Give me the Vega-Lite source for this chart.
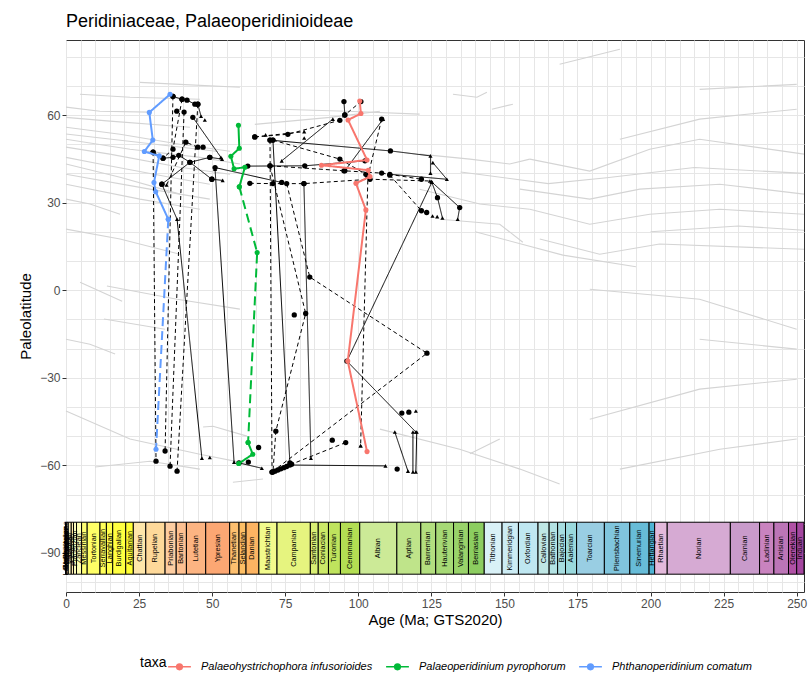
{
"$schema": "https://vega.github.io/schema/vega-lite/v6.json",
"width": 738, "height": 552,
"autosize": {"type": "none"},
"padding": {"left": 66, "top": 40, "right": 7, "bottom": 82},
"background": "white",
"title": {"text": "Peridiniaceae, Palaeoperidinioideae", "anchor": "start", "frame": "group", "fontSize": 18, "font": "Liberation Sans", "fontWeight": "normal", "color": "black", "offset": 9},
"config": {"view": {"stroke": "#333333", "strokeWidth": 1}, "font": "Liberation Sans"},
"datasets": {
"gray": [
{"g":"g1","o":0,"age":0,"lat":55.8},{"g":"g1","o":1,"age":18.5,"lat":53.4},{"g":"g1","o":2,"age":39,"lat":50},{"g":"g1","o":3,"age":56.1,"lat":47.6},
{"g":"g2","o":0,"age":0,"lat":51.7},{"g":"g2","o":1,"age":21.9,"lat":48.3},{"g":"g2","o":2,"age":45.8,"lat":45.5},{"g":"g2","o":3,"age":59.5,"lat":43.2},
{"g":"g3","o":0,"age":0,"lat":49},{"g":"g3","o":1,"age":15,"lat":46.6},{"g":"g3","o":2,"age":39,"lat":42.1},{"g":"g3","o":3,"age":56.1,"lat":39.7},
{"g":"g4","o":0,"age":0,"lat":45.5},{"g":"g4","o":1,"age":11.6,"lat":43.2},{"g":"g4","o":2,"age":35.6,"lat":38.7},{"g":"g4","o":3,"age":49.2,"lat":36.3},
{"g":"g5","o":0,"age":0,"lat":43.2},{"g":"g5","o":1,"age":18.5,"lat":38.7},{"g":"g5","o":2,"age":39,"lat":32.9},
{"g":"g6","o":0,"age":0,"lat":59.2},{"g":"g6","o":1,"age":15,"lat":57.9},{"g":"g6","o":2,"age":42.4,"lat":55.8},
{"g":"g7","o":0,"age":0,"lat":62.7},{"g":"g7","o":1,"age":11.6,"lat":61.3},{"g":"g7","o":2,"age":28.7,"lat":61},
{"g":"g8","o":0,"age":4.8,"lat":67.1},{"g":"g8","o":1,"age":21.9,"lat":66.1},{"g":"g8","o":2,"age":45.8,"lat":65.4},
{"g":"g9","o":0,"age":25.3,"lat":71.2},{"g":"g9","o":1,"age":39,"lat":70.5},{"g":"g9","o":2,"age":59.5,"lat":69.5},
{"g":"g10","o":0,"age":0,"lat":31.2},{"g":"g10","o":1,"age":8.2,"lat":29.5},{"g":"g10","o":2,"age":18.5,"lat":26},
{"g":"g11","o":0,"age":0,"lat":36.3},{"g":"g11","o":1,"age":25.3,"lat":31.2},{"g":"g11","o":2,"age":45.8,"lat":27.7},
{"g":"g12","o":0,"age":0,"lat":39.7},{"g":"g12","o":1,"age":28.7,"lat":34.6},{"g":"g12","o":2,"age":49.2,"lat":31.2},
{"g":"g13","o":0,"age":0,"lat":20.9},{"g":"g13","o":1,"age":18.5,"lat":17.5},{"g":"g13","o":2,"age":39,"lat":12.3},
{"g":"g14","o":0,"age":0,"lat":53.5},{"g":"g14","o":1,"age":26,"lat":50.5},{"g":"g14","o":2,"age":52,"lat":47.5},
{"g":"g15","o":0,"age":4.8,"lat":2.7},{"g":"g15","o":1,"age":19.2,"lat":-3.8},
{"g":"g16","o":0,"age":14,"lat":1.4},{"g":"g16","o":1,"age":38,"lat":-3.1},{"g":"g16","o":2,"age":59.5,"lat":-6.5},
{"g":"g17","o":0,"age":0,"lat":-16.8},{"g":"g17","o":1,"age":8.2,"lat":-18.5},{"g":"g17","o":2,"age":16.8,"lat":-21.9},
{"g":"g18","o":0,"age":13,"lat":-9.9},{"g":"g18","o":1,"age":33.9,"lat":-13.4},
{"g":"g19","o":0,"age":0,"lat":-41.4},{"g":"g19","o":1,"age":21.9,"lat":-51},{"g":"g19","o":2,"age":45.8,"lat":-56.2},{"g":"g19","o":3,"age":62.9,"lat":-59.6},
{"g":"g20","o":0,"age":9.9,"lat":-60.6},{"g":"g20","o":1,"age":28.7,"lat":-58.6},{"g":"g20","o":2,"age":45.8,"lat":-61.3},
{"g":"g21","o":0,"age":57.1,"lat":-65.8},{"g":"g21","o":1,"age":67.4,"lat":-64.7},
{"g":"g22","o":0,"age":46.9,"lat":-46.9},{"g":"g22","o":1,"age":50.3,"lat":-46.6},{"g":"g22","o":2,"age":61.9,"lat":-50},
{"g":"g23","o":0,"age":73.2,"lat":62},{"g":"g23","o":1,"age":96.1,"lat":61.3},{"g":"g23","o":2,"age":121,"lat":60.3},
{"g":"g24","o":0,"age":64.6,"lat":56.8},{"g":"g24","o":1,"age":90.3,"lat":59.2},{"g":"g24","o":2,"age":107.4,"lat":61.3},
{"g":"g25","o":0,"age":121,"lat":46.6},{"g":"g25","o":1,"age":138.2,"lat":44.9},{"g":"g25","o":2,"age":151.8,"lat":43.2},{"g":"g25","o":3,"age":158.7,"lat":44.9},
{"g":"g26","o":0,"age":121,"lat":34.6},{"g":"g26","o":1,"age":141.6,"lat":29.5},{"g":"g26","o":2,"age":158.7,"lat":27.7},
{"g":"g27","o":0,"age":127.9,"lat":24.3},{"g":"g27","o":1,"age":148.4,"lat":22.6},{"g":"g27","o":2,"age":156.3,"lat":16.4},
{"g":"g28","o":0,"age":132.4,"lat":67.1},{"g":"g28","o":1,"age":140.6,"lat":66.1},{"g":"g28","o":2,"age":144,"lat":67.8},
{"g":"g29","o":0,"age":145.7,"lat":62},{"g":"g29","o":1,"age":152.9,"lat":63.7},
{"g":"g30","o":0,"age":158.7,"lat":44.9},{"g":"g30","o":1,"age":179.2,"lat":40.8},{"g":"g30","o":2,"age":199.7,"lat":48.3},{"g":"g30","o":3,"age":216.8,"lat":51.7},{"g":"g30","o":4,"age":252.5,"lat":46.6},
{"g":"g31","o":0,"age":155.3,"lat":34.6},{"g":"g31","o":1,"age":179.2,"lat":31.2},{"g":"g31","o":2,"age":196.3,"lat":34.6},{"g":"g31","o":3,"age":223.7,"lat":36.3},{"g":"g31","o":4,"age":252.5,"lat":32.9},
{"g":"g32","o":0,"age":158.7,"lat":27.7},{"g":"g32","o":1,"age":179.2,"lat":22.6},{"g":"g32","o":2,"age":199.7,"lat":26},{"g":"g32","o":3,"age":223.7,"lat":27.7},{"g":"g32","o":4,"age":252.5,"lat":26},
{"g":"g33","o":0,"age":162.1,"lat":17.5},{"g":"g33","o":1,"age":182.6,"lat":12.3},{"g":"g33","o":2,"age":203.1,"lat":15.8},{"g":"g33","o":3,"age":252.5,"lat":14},
{"g":"g34","o":0,"age":179.2,"lat":0.3},{"g":"g34","o":1,"age":216.8,"lat":-3.1},{"g":"g34","o":2,"age":250,"lat":-13.4},
{"g":"g35","o":0,"age":189.5,"lat":51.7},{"g":"g35","o":1,"age":216.8,"lat":58.6},{"g":"g35","o":2,"age":250,"lat":62},
{"g":"g36","o":0,"age":168.9,"lat":77.4},{"g":"g36","o":1,"age":189.5,"lat":82.5},
{"g":"g37","o":0,"age":216.8,"lat":68.8},{"g":"g37","o":1,"age":250,"lat":70.5},
{"g":"g38","o":0,"age":107.4,"lat":-47.6},{"g":"g38","o":1,"age":134.7,"lat":-54.5},{"g":"g38","o":2,"age":155.3,"lat":-61.3},{"g":"g38","o":3,"age":168.9,"lat":-66.4},
{"g":"g39","o":0,"age":138.2,"lat":-56},{"g":"g39","o":1,"age":148.4,"lat":-51},
{"g":"g40","o":0,"age":179.2,"lat":-44.2},{"g":"g40","o":1,"age":216.8,"lat":-33.9},{"g":"g40","o":2,"age":250,"lat":-30.5},
{"g":"g41","o":0,"age":189.5,"lat":-61.3},{"g":"g41","o":1,"age":223.7,"lat":-54.5},{"g":"g41","o":2,"age":250,"lat":-51},
{"g":"g42","o":0,"age":216.8,"lat":-16.8},{"g":"g42","o":1,"age":250,"lat":-20.2},
{"g":"g43","o":0,"age":135,"lat":40.5},{"g":"g43","o":1,"age":165,"lat":36.5},{"g":"g43","o":2,"age":185,"lat":38.5},{"g":"g43","o":3,"age":215,"lat":42},{"g":"g43","o":4,"age":252.5,"lat":40},
{"g":"g44","o":0,"age":140,"lat":20},{"g":"g44","o":1,"age":170,"lat":12},{"g":"g44","o":2,"age":195,"lat":8},
{"g":"g45","o":0,"age":200,"lat":20},{"g":"g45","o":1,"age":230,"lat":22},{"g":"g45","o":2,"age":252.5,"lat":20.5}
],
"stages": [
{"stage":"Meghalayan","start":0,"end":0.0042},{"stage":"Northgrippian","start":0.0042,"end":0.0082},{"stage":"Greenlandian","start":0.0082,"end":0.0117},{"stage":"Late Pleistocene","start":0.0117,"end":0.129},{"stage":"Chibanian","start":0.129,"end":0.774},{"stage":"Calabrian","start":0.774,"end":1.8},{"stage":"Gelasian","start":1.8,"end":2.58},{"stage":"Piacenzian","start":2.58,"end":3.6},{"stage":"Zanclean","start":3.6,"end":5.333},{"stage":"Messinian","start":5.333,"end":7.246},{"stage":"Tortonian","start":7.246,"end":11.63},{"stage":"Serravallian","start":11.63,"end":13.82},{"stage":"Langhian","start":13.82,"end":15.98},{"stage":"Burdigalian","start":15.98,"end":20.44},{"stage":"Aquitanian","start":20.44,"end":23.03},{"stage":"Chattian","start":23.03,"end":27.3},{"stage":"Rupelian","start":27.3,"end":33.9},{"stage":"Priabonian","start":33.9,"end":37.71},{"stage":"Bartonian","start":37.71,"end":41.2},{"stage":"Lutetian","start":41.2,"end":47.8},{"stage":"Ypresian","start":47.8,"end":56},{"stage":"Thanetian","start":56,"end":59.2},{"stage":"Selandian","start":59.2,"end":61.6},{"stage":"Danian","start":61.6,"end":66},{"stage":"Maastrichtian","start":66,"end":72.2},{"stage":"Campanian","start":72.2,"end":83.6},{"stage":"Santonian","start":83.6,"end":86.3},{"stage":"Coniacian","start":86.3,"end":89.8},{"stage":"Turonian","start":89.8,"end":93.9},{"stage":"Cenomanian","start":93.9,"end":100.5},{"stage":"Albian","start":100.5,"end":113.2},{"stage":"Aptian","start":113.2,"end":121.4},{"stage":"Barremian","start":121.4,"end":126.5},{"stage":"Hauterivian","start":126.5,"end":132.6},{"stage":"Valanginian","start":132.6,"end":137.7},{"stage":"Berriasian","start":137.7,"end":143.1},{"stage":"Tithonian","start":143.1,"end":149.2},{"stage":"Kimmeridgian","start":149.2,"end":154.8},{"stage":"Oxfordian","start":154.8,"end":161.5},{"stage":"Callovian","start":161.5,"end":165.3},{"stage":"Bathonian","start":165.3,"end":168.2},{"stage":"Bajocian","start":168.2,"end":170.9},{"stage":"Aalenian","start":170.9,"end":174.7},{"stage":"Toarcian","start":174.7,"end":184.2},{"stage":"Pliensbachian","start":184.2,"end":192.9},{"stage":"Sinemurian","start":192.9,"end":199.5},{"stage":"Hettangian","start":199.5,"end":201.4},{"stage":"Rhaetian","start":201.4,"end":205.7},{"stage":"Norian","start":205.7,"end":227.3},{"stage":"Carnian","start":227.3,"end":237.3},{"stage":"Ladinian","start":237.3,"end":242.2},{"stage":"Anisian","start":242.2,"end":247.2},{"stage":"Olenekian","start":247.2,"end":250},{"stage":"Induan","start":250,"end":252.5}
],
"black": [
{"s":"b1","d":"solid","o":0,"age":36.6,"lat":66.4,"sh":"c"},{"s":"b1","d":"solid","o":1,"age":39.7,"lat":65.4,"sh":"c"},{"s":"b1","d":"solid","o":2,"age":41.4,"lat":65.1,"sh":"c"},{"s":"b1","d":"solid","o":3,"age":44.1,"lat":63.7,"sh":"c"},{"s":"b1","d":"solid","o":4,"age":45.1,"lat":63.7,"sh":"c"},{"s":"b1","d":"solid","o":5,"age":46.2,"lat":59.6,"sh":"t"},
{"s":"b2","d":"dashed","o":0,"age":36.6,"lat":66.4,"sh":"c"},{"s":"b2","d":"dashed","o":1,"age":33.9,"lat":-55.1,"sh":"c"},
{"s":"b3","d":"dashed","o":0,"age":40.4,"lat":61.0,"sh":"c"},{"s":"b3","d":"dashed","o":1,"age":35.6,"lat":-60.3,"sh":"c"},
{"s":"b4","d":"dashed","o":0,"age":45.1,"lat":63.7,"sh":"c"},{"s":"b4","d":"dashed","o":1,"age":38.0,"lat":-62.0,"sh":"c"},
{"s":"b5","d":"dashed","o":0,"age":39.7,"lat":65.4,"sh":"c"},{"s":"b5","d":"dashed","o":1,"age":36.6,"lat":48.3,"sh":"c"},{"s":"b5","d":"dashed","o":2,"age":33.2,"lat":45.2,"sh":"c"},
{"s":"b6","d":"solid","o":0,"age":43.4,"lat":59.2,"sh":"c"},{"s":"b6","d":"solid","o":1,"age":53.0,"lat":45.5,"sh":"t"},
{"s":"b7","d":"solid","o":0,"age":32.8,"lat":36.3,"sh":"c"},{"s":"b7","d":"solid","o":1,"age":38.0,"lat":24.3,"sh":"t"},{"s":"b7","d":"solid","o":2,"age":46.5,"lat":-57.6,"sh":"t"},
{"s":"b8","d":"solid","o":0,"age":29.8,"lat":47.3,"sh":"c"},{"s":"b8","d":"solid","o":1,"age":33.2,"lat":45.2,"sh":"c"},{"s":"b8","d":"solid","o":2,"age":36.6,"lat":45.5,"sh":"c"},{"s":"b8","d":"solid","o":3,"age":38.6,"lat":46.2,"sh":"c"},{"s":"b8","d":"solid","o":4,"age":42.4,"lat":43.8,"sh":"c"},{"s":"b8","d":"solid","o":5,"age":49.2,"lat":45.5,"sh":"c"},
{"s":"b9","d":"dashed","o":0,"age":34.4,"lat":36.0,"sh":"t"},{"s":"b9","d":"dashed","o":1,"age":41.0,"lat":50.7,"sh":"c"},{"s":"b9","d":"dashed","o":2,"age":45.1,"lat":49.0,"sh":"c"},{"s":"b9","d":"dashed","o":3,"age":46.9,"lat":49.0,"sh":"c"},
{"s":"b10","d":"solid","o":0,"age":32.8,"lat":36.3,"sh":"c"},{"s":"b10","d":"solid","o":1,"age":42.4,"lat":43.8,"sh":"c"},{"s":"b10","d":"solid","o":2,"age":49.9,"lat":38.0,"sh":"c"},
{"s":"b11","d":"solid","o":0,"age":51.0,"lat":41.4,"sh":"t"},{"s":"b11","d":"solid","o":1,"age":57.5,"lat":-58.9,"sh":"t"},
{"s":"b12","d":"dashed","o":0,"age":29.8,"lat":47.3,"sh":"c"},{"s":"b12","d":"dashed","o":1,"age":30.8,"lat":-58.6,"sh":"c"},
{"s":"b13","d":"solid","o":0,"age":59.2,"lat":-59.2,"sh":"c"},{"s":"b13","d":"solid","o":1,"age":67.0,"lat":-61.0,"sh":"t"},
{"s":"b14","d":"solid","o":0,"age":49.2,"lat":45.5,"sh":"c"},{"s":"b14","d":"solid","o":1,"age":53.4,"lat":44.9,"sh":"t"},
{"s":"b15","d":"solid","o":0,"age":62.2,"lat":42.5,"sh":"c"},{"s":"b15","d":"solid","o":1,"age":81.7,"lat":42.6,"sh":"c"},{"s":"b15","d":"solid","o":2,"age":102.3,"lat":44.3,"sh":"c"},
{"s":"b16","d":"solid","o":0,"age":69.8,"lat":51.4,"sh":"c"},{"s":"b16","d":"solid","o":1,"age":111.0,"lat":47.7,"sh":"c"},{"s":"b16","d":"solid","o":2,"age":124.7,"lat":46.0,"sh":"t"},{"s":"b16","d":"solid","o":3,"age":124.7,"lat":40.1,"sh":"t"},
{"s":"b17","d":"solid","o":0,"age":125.5,"lat":43.7,"sh":"t"},{"s":"b17","d":"solid","o":1,"age":130.3,"lat":38.0,"sh":"t"},{"s":"b17","d":"solid","o":2,"age":110.8,"lat":39.7,"sh":"c"},
{"s":"b18","d":"dashed","o":0,"age":69.8,"lat":42.6,"sh":"c"},{"s":"b18","d":"dashed","o":1,"age":95.1,"lat":40.9,"sh":"c"},{"s":"b18","d":"dashed","o":2,"age":108.0,"lat":40.1,"sh":"c"},{"s":"b18","d":"dashed","o":3,"age":121.6,"lat":38.0,"sh":"c"},
{"s":"b19","d":"dashed","o":0,"age":62.9,"lat":36.6,"sh":"c"},{"s":"b19","d":"dashed","o":1,"age":70.8,"lat":36.5,"sh":"c"},{"s":"b19","d":"dashed","o":2,"age":81.4,"lat":36.5,"sh":"c"},{"s":"b19","d":"dashed","o":3,"age":104.0,"lat":38.0,"sh":"c"},{"s":"b19","d":"dashed","o":4,"age":124.5,"lat":37.4,"sh":"t"},
{"s":"b20","d":"solid","o":0,"age":73.8,"lat":44.3,"sh":"t"},{"s":"b20","d":"solid","o":1,"age":91.3,"lat":58.6,"sh":"t"},
{"s":"b21","d":"dashed","o":0,"age":64.6,"lat":52.5,"sh":"c"},{"s":"b21","d":"dashed","o":1,"age":75.9,"lat":53.4,"sh":"c"},{"s":"b21","d":"dashed","o":2,"age":93.7,"lat":58.2,"sh":"c"},{"s":"b21","d":"dashed","o":3,"age":95.4,"lat":60.0,"sh":"c"},{"s":"b21","d":"dashed","o":4,"age":100.9,"lat":64.6,"sh":"c"},
{"s":"b22","d":"solid","o":0,"age":95.1,"lat":64.6,"sh":"c"},{"s":"b22","d":"solid","o":1,"age":95.4,"lat":60.0,"sh":"c"},
{"s":"b23","d":"solid","o":0,"age":70.8,"lat":51.4,"sh":"c"},{"s":"b23","d":"solid","o":1,"age":76.6,"lat":-59.2,"sh":"c"},
{"s":"b24","d":"dashed","o":0,"age":69.8,"lat":51.4,"sh":"c"},{"s":"b24","d":"dashed","o":1,"age":70.5,"lat":-62.3,"sh":"c"},
{"s":"b25","d":"dashed","o":0,"age":69.8,"lat":42.6,"sh":"c"},{"s":"b25","d":"dashed","o":1,"age":82.0,"lat":-8.0,"sh":"c"},{"s":"b25","d":"dashed","o":2,"age":71.8,"lat":-48.3,"sh":"c"},{"s":"b25","d":"dashed","o":3,"age":70.8,"lat":-62.3,"sh":"c"},
{"s":"b26","d":"solid","o":0,"age":81.4,"lat":36.5,"sh":"c"},{"s":"b26","d":"solid","o":1,"age":83.8,"lat":-57.6,"sh":"t"},
{"s":"b27","d":"dashed","o":0,"age":75.5,"lat":36.5,"sh":"c"},{"s":"b27","d":"dashed","o":1,"age":83.4,"lat":4.5,"sh":"c"},{"s":"b27","d":"dashed","o":2,"age":123.5,"lat":-21.6,"sh":"c"},{"s":"b27","d":"dashed","o":3,"age":70.5,"lat":-62.3,"sh":"c"},
{"s":"b28","d":"solid","o":0,"age":125.2,"lat":37.0,"sh":"t"},{"s":"b28","d":"solid","o":1,"age":96.1,"lat":-24.3,"sh":"c"},{"s":"b28","d":"solid","o":2,"age":119.7,"lat":-48.6,"sh":"t"},
{"s":"b29","d":"dashed","o":0,"age":95.7,"lat":-52.2,"sh":"c"},{"s":"b29","d":"dashed","o":1,"age":77.2,"lat":-59.6,"sh":"c"},
{"s":"b30","d":"solid","o":0,"age":76.6,"lat":-59.9,"sh":"c"},{"s":"b30","d":"solid","o":1,"age":109.3,"lat":-60.2,"sh":"t"},
{"s":"b31","d":"solid","o":0,"age":112.5,"lat":-48.6,"sh":"t"},{"s":"b31","d":"solid","o":1,"age":117.0,"lat":-62.0,"sh":"t"},
{"s":"b32","d":"solid","o":0,"age":118.7,"lat":-48.6,"sh":"t"},{"s":"b32","d":"solid","o":1,"age":118.7,"lat":-62.3,"sh":"t"},
{"s":"b33","d":"solid","o":0,"age":120.0,"lat":-48.6,"sh":"t"},{"s":"b33","d":"solid","o":1,"age":119.7,"lat":-62.3,"sh":"t"},
{"s":"b34","d":"solid","o":0,"age":125.1,"lat":37.1,"sh":"t"},{"s":"b34","d":"solid","o":1,"age":127.1,"lat":31.7,"sh":"c"},{"s":"b34","d":"solid","o":2,"age":128.8,"lat":24.7,"sh":"t"},
{"s":"b35","d":"solid","o":0,"age":125.1,"lat":37.1,"sh":"t"},{"s":"b35","d":"solid","o":1,"age":134.7,"lat":28.3,"sh":"c"},{"s":"b35","d":"solid","o":2,"age":134.0,"lat":24.3,"sh":"t"},
{"s":"b36","d":"dashed","o":0,"age":110.8,"lat":39.4,"sh":"c"},{"s":"b36","d":"dashed","o":1,"age":121.6,"lat":27.2,"sh":"c"},
{"s":"b37","d":"solid","o":0,"age":108.5,"lat":58.6,"sh":"t"},{"s":"b37","d":"solid","o":1,"age":95.4,"lat":40.9,"sh":"c"},
{"s":"b38","d":"dashed","o":0,"age":108.0,"lat":58.6,"sh":"c"},{"s":"b38","d":"dashed","o":1,"age":103.3,"lat":39.0,"sh":"c"},{"s":"b38","d":"dashed","o":2,"age":100.8,"lat":-53.3,"sh":"t"},
{"s":"b39","d":"dashed","o":0,"age":70.8,"lat":51.4,"sh":"c"},{"s":"b39","d":"dashed","o":1,"age":93.7,"lat":44.9,"sh":"c"},{"s":"b39","d":"dashed","o":2,"age":102.6,"lat":39.7,"sh":"c"},
{"s":"b41","d":"dashed","o":0,"age":64.6,"lat":52.5,"sh":"c"},{"s":"b41","d":"dashed","o":1,"age":81.5,"lat":54.3,"sh":"t"},
{"s":"b42","d":"solid","o":0,"age":51.0,"lat":42.0,"sh":"c"},{"s":"b42","d":"solid","o":1,"age":73.8,"lat":36.9,"sh":"c"},
{"s":"b43","d":"solid","o":0,"age":49.9,"lat":38.0,"sh":"c"},{"s":"b43","d":"solid","o":1,"age":53.6,"lat":37.6,"sh":"t"},
{"s":"p1","d":"solid","o":0,"age":37.9,"lat":61.3,"sh":"c"},{"s":"p2","d":"solid","o":0,"age":47.5,"lat":58.3,"sh":"t"},
{"s":"p3","d":"solid","o":0,"age":49.2,"lat":-57.3,"sh":"t"},{"s":"p4","d":"solid","o":0,"age":65.9,"lat":-53.9,"sh":"c"},
{"s":"p5","d":"solid","o":0,"age":91.1,"lat":-51.4,"sh":"c"},{"s":"p6","d":"solid","o":0,"age":114.9,"lat":-42.1,"sh":"c"},
{"s":"p7","d":"solid","o":0,"age":117.3,"lat":-41.8,"sh":"c"},{"s":"p8","d":"solid","o":0,"age":119.7,"lat":-41.4,"sh":"t"},
{"s":"p9","d":"solid","o":0,"age":123.4,"lat":26.6,"sh":"c"},{"s":"p10","d":"solid","o":0,"age":125.4,"lat":25.4,"sh":"t"},
{"s":"p11","d":"solid","o":0,"age":127.0,"lat":25.2,"sh":"t"},{"s":"p12","d":"solid","o":0,"age":68.3,"lat":53.2,"sh":"t"},
{"s":"p13","d":"solid","o":0,"age":81.5,"lat":52.1,"sh":"t"},{"s":"p14","d":"solid","o":0,"age":113.3,"lat":-61.3,"sh":"c"},
{"s":"p15","d":"solid","o":0,"age":78.1,"lat":-8.5,"sh":"c"},{"s":"p16","d":"solid","o":0,"age":71.5,"lat":-62.0,"sh":"c"},
{"s":"p17","d":"solid","o":0,"age":72.5,"lat":-61.6,"sh":"c"},{"s":"p18","d":"solid","o":0,"age":73.5,"lat":-61.2,"sh":"c"},
{"s":"p19","d":"solid","o":0,"age":74.5,"lat":-60.8,"sh":"c"},{"s":"p20","d":"solid","o":0,"age":75.5,"lat":-60.4,"sh":"c"},
{"s":"p21","d":"solid","o":0,"age":100.8,"lat":-53.3,"sh":"t"},{"s":"p22","d":"solid","o":0,"age":62.4,"lat":-58.9,"sh":"c"}
],
"taxa": [
{"taxa":"Palaeohystrichophora infusorioides","seg":"p","d":"solid","o":0,"age":100.5,"lat":64.8},
{"taxa":"Palaeohystrichophora infusorioides","seg":"p","d":"solid","o":1,"age":100.9,"lat":60.5},
{"taxa":"Palaeohystrichophora infusorioides","seg":"p","d":"solid","o":2,"age":96.5,"lat":58.3},
{"taxa":"Palaeohystrichophora infusorioides","seg":"p","d":"solid","o":3,"age":103.0,"lat":44.6},
{"taxa":"Palaeohystrichophora infusorioides","seg":"p","d":"solid","o":4,"age":87.4,"lat":42.8},
{"taxa":"Palaeohystrichophora infusorioides","seg":"p","d":"solid","o":5,"age":103.4,"lat":41.1},
{"taxa":"Palaeohystrichophora infusorioides","seg":"p","d":"solid","o":6,"age":104.0,"lat":38.9},
{"taxa":"Palaeohystrichophora infusorioides","seg":"p","d":"solid","o":7,"age":99.2,"lat":36.6},
{"taxa":"Palaeohystrichophora infusorioides","seg":"p","d":"solid","o":8,"age":102.6,"lat":27.5},
{"taxa":"Palaeohystrichophora infusorioides","seg":"p","d":"solid","o":9,"age":96.4,"lat":-24.3},
{"taxa":"Palaeohystrichophora infusorioides","seg":"p","d":"solid","o":10,"age":103.0,"lat":-55.3},
{"taxa":"Palaeoperidinium pyrophorum","seg":"g1","d":"solid","o":0,"age":59.0,"lat":56.5},
{"taxa":"Palaeoperidinium pyrophorum","seg":"g1","d":"solid","o":1,"age":59.3,"lat":48.6},
{"taxa":"Palaeoperidinium pyrophorum","seg":"g1","d":"solid","o":2,"age":56.4,"lat":45.9},
{"taxa":"Palaeoperidinium pyrophorum","seg":"g1","d":"solid","o":3,"age":57.5,"lat":41.6},
{"taxa":"Palaeoperidinium pyrophorum","seg":"g1","d":"solid","o":4,"age":61.2,"lat":42.1},
{"taxa":"Palaeoperidinium pyrophorum","seg":"g1","d":"solid","o":5,"age":59.3,"lat":35.4},
{"taxa":"Palaeoperidinium pyrophorum","seg":"g2","d":"dashed","o":0,"age":59.3,"lat":35.4},
{"taxa":"Palaeoperidinium pyrophorum","seg":"g2","d":"dashed","o":1,"age":65.4,"lat":12.9},
{"taxa":"Palaeoperidinium pyrophorum","seg":"g2","d":"dashed","o":2,"age":62.3,"lat":-52.2},
{"taxa":"Palaeoperidinium pyrophorum","seg":"g3","d":"solid","o":0,"age":62.3,"lat":-52.2},
{"taxa":"Palaeoperidinium pyrophorum","seg":"g3","d":"solid","o":1,"age":63.9,"lat":-56.2},
{"taxa":"Palaeoperidinium pyrophorum","seg":"g3","d":"solid","o":2,"age":59.1,"lat":-59.4},
{"taxa":"Phthanoperidinium comatum","seg":"c1","d":"solid","o":0,"age":35.6,"lat":67.1},
{"taxa":"Phthanoperidinium comatum","seg":"c1","d":"solid","o":1,"age":28.5,"lat":60.9},
{"taxa":"Phthanoperidinium comatum","seg":"c1","d":"solid","o":2,"age":29.7,"lat":51.4},
{"taxa":"Phthanoperidinium comatum","seg":"c1","d":"solid","o":3,"age":26.8,"lat":47.5},
{"taxa":"Phthanoperidinium comatum","seg":"c1","d":"solid","o":4,"age":31.9,"lat":46.0},
{"taxa":"Phthanoperidinium comatum","seg":"c1","d":"solid","o":5,"age":30.1,"lat":36.9},
{"taxa":"Phthanoperidinium comatum","seg":"c1","d":"solid","o":6,"age":30.7,"lat":33.7},
{"taxa":"Phthanoperidinium comatum","seg":"c1","d":"solid","o":7,"age":35.0,"lat":24.3},
{"taxa":"Phthanoperidinium comatum","seg":"c2","d":"dashed","o":0,"age":35.0,"lat":24.3},
{"taxa":"Phthanoperidinium comatum","seg":"c2","d":"dashed","o":1,"age":30.8,"lat":-54.5}
]
},
"resolve": {"scale": {"strokeDash": "independent", "size": "independent"}, "axis": {"x": "independent", "y": "independent"}},
"layer": [
{
"data": {"name": "gray"},
"mark": {"type": "line", "color": "#d4d4d4", "strokeWidth": 1.1},
"encoding": {
"x": {"field": "age", "type": "quantitative", "scale": {"domain": [0, 252.5], "nice": false, "zero": false},
 "axis": {"orient": "top", "values": [0,5,10,15,20,25,30,35,40,45,50,55,60,65,70,75,80,85,90,95,100,105,110,115,120,125,130,135,140,145,150,155,160,165,170,175,180,185,190,195,200,205,210,215,220,225,230,235,240,245,250],
 "grid": true, "gridColor": "#e6e6e6", "gridWidth": 1, "domain": false, "ticks": false, "labels": false, "title": null}},
"y": {"field": "lat", "type": "quantitative", "scale": {"domain": [-103.4, 85.7], "nice": false, "zero": false},
 "axis": {"orient": "right", "values": [-100,-90,-80,-70,-60,-50,-40,-30,-20,-10,0,10,20,30,40,50,60,70,80],
 "grid": true, "gridColor": "#e6e6e6", "gridWidth": 1, "domain": false, "ticks": false, "labels": false, "title": null}},
"detail": {"field": "g"},
"order": {"field": "o", "type": "quantitative"}
}
},
{
"data": {"name": "stages"},
"mark": {"type": "rect", "stroke": "black", "strokeWidth": 1},
"encoding": {
"x": {"field": "start", "type": "quantitative", "axis": null},
"x2": {"field": "end"},
"y": {"datum": -79.5, "axis": null},
"y2": {"datum": -97.3},
"fill": {"field": "stage", "type": "nominal", "legend": null, "scale": {
 "domain": ["Meghalayan","Northgrippian","Greenlandian","Late Pleistocene","Chibanian","Calabrian","Gelasian","Piacenzian","Zanclean","Messinian","Tortonian","Serravallian","Langhian","Burdigalian","Aquitanian","Chattian","Rupelian","Priabonian","Bartonian","Lutetian","Ypresian","Thanetian","Selandian","Danian","Maastrichtian","Campanian","Santonian","Coniacian","Turonian","Cenomanian","Albian","Aptian","Barremian","Hauterivian","Valanginian","Berriasian","Tithonian","Kimmeridgian","Oxfordian","Callovian","Bathonian","Bajocian","Aalenian","Toarcian","Pliensbachian","Sinemurian","Hettangian","Rhaetian","Norian","Carnian","Ladinian","Anisian","Olenekian","Induan"],
 "range": ["#FDEDEC","#FDECE4","#FEECDB","#FFF2D3","#FFF2C7","#FFF2BA","#FFEDB3","#FFFFBF","#FFFFB3","#FFFF73","#FFFF66","#FFFF59","#FFFF4D","#FFFF41","#FFFF33","#FEE6AA","#FED99A","#FDCDA1","#FDC091","#FCB482","#FCA773","#FDBF6F","#FEBF65","#FDB462","#F2FA8C","#E6F47F","#D9EF74","#CCE968","#BFE35D","#B3DE53","#CCEA97","#BFE48A","#B3DF7F","#A6D975","#99D36A","#8CCD60","#D9F1F7","#CCECF4","#BFE7F1","#BFE7E5","#B3E2E3","#A6DDE0","#9AD9DD","#99CEE3","#80C5DD","#67BCD8","#4EB3D3","#E3B9DB","#D6AAD3","#C99BCB","#C983BF","#BC75B7","#B051A5","#A4469F"]}}
}
},
{
"data": {"name": "stages"},
"transform": [{"calculate": "(datum.start + datum.end) / 2", "as": "mid"}],
"mark": {"type": "text", "angle": 270, "fontSize": 7.3, "font": "Liberation Sans", "color": "black", "align": "center", "baseline": "middle"},
"encoding": {
"x": {"field": "mid", "type": "quantitative", "axis": null},
"y": {"datum": -88.4, "axis": null},
"text": {"field": "stage"}
}
},
{
"data": {"name": "black"},
"mark": {"type": "line", "color": "black", "strokeWidth": 1},
"encoding": {
"x": {"field": "age", "type": "quantitative",
 "axis": {"orient": "bottom", "values": [0,25,50,75,100,125,150,175,200,225,250], "grid": false, "domain": false,
 "tickColor": "#333333", "tickSize": 4, "labelColor": "#4d4d4d", "labelFontSize": 12, "labelPadding": 2, "labelFont": "Liberation Sans", "labelFlush": false,
 "title": "Age (Ma; GTS2020)", "titleFontSize": 15, "titleFontWeight": "normal", "titleColor": "black", "titleFont": "Liberation Sans", "titlePadding": 3}},
"y": {"field": "lat", "type": "quantitative",
 "axis": {"orient": "left", "values": [-90,-60,-30,0,30,60], "grid": false, "domain": false,
 "tickColor": "#333333", "tickSize": 4, "labelColor": "#4d4d4d", "labelFontSize": 12, "labelPadding": 2, "labelFont": "Liberation Sans", "labelFlush": false,
 "title": "Paleolatitude", "titleFontSize": 15, "titleFontWeight": "normal", "titleColor": "black", "titleFont": "Liberation Sans", "titlePadding": 6}},
"detail": {"field": "s"},
"order": {"field": "o", "type": "quantitative"},
"strokeDash": {"field": "d", "type": "nominal", "legend": null, "scale": {"domain": ["solid","dashed"], "range": [[1,0],[4,3]]}}
}
},
{
"data": {"name": "black"},
"mark": {"type": "point", "filled": true, "color": "black", "opacity": 1},
"encoding": {
"x": {"field": "age", "type": "quantitative", "axis": null},
"y": {"field": "lat", "type": "quantitative", "axis": null},
"shape": {"field": "sh", "type": "nominal", "legend": null, "scale": {"domain": ["c","t"], "range": ["circle","triangle-up"]}},
"size": {"field": "sh", "type": "nominal", "legend": null, "scale": {"domain": ["c","t"], "range": [28, 17]}}
}
},
{
"data": {"name": "taxa"},
"mark": {"type": "line", "strokeWidth": 2},
"encoding": {
"x": {"field": "age", "type": "quantitative", "axis": null},
"y": {"field": "lat", "type": "quantitative", "axis": null},
"detail": {"field": "seg"},
"order": {"field": "o", "type": "quantitative"},
"strokeDash": {"field": "d", "type": "nominal", "legend": null, "scale": {"domain": ["solid","dashed"], "range": [[1,0],[9,5]]}},
"color": {"field": "taxa", "type": "nominal", "title": "taxa",
 "scale": {"domain": ["Palaeohystrichophora infusorioides","Palaeoperidinium pyrophorum","Phthanoperidinium comatum"], "range": ["#F8766D","#00BA38","#619CFF"]},
 "legend": {"orient": "none", "legendX": 74, "legendY": 614, "direction": "horizontal", "columns": 3, "title": "taxa", "titleOrient": "left", "titleFontSize": 14, "titleFontWeight": "normal", "titleColor": "black", "titleFont": "Liberation Sans", "titlePadding": 0, "labelFont": "Liberation Sans", "labelFontStyle": "italic", "labelFontSize": 11, "labelColor": "black", "labelOffset": 9, "columnPadding": 10, "labelLimit": 300,
 "symbolType": "M -1 0 L 1 0 M 0.25 0 A 0.25 0.25 0 1 1 -0.25 0 A 0.25 0.25 0 1 1 0.25 0", "symbolSize": 520, "symbolStrokeWidth": 1.5,
 "encode": {"symbols": {"update": {"stroke": {"scale": "color", "field": "value"}, "fill": {"scale": "color", "field": "value"}, "strokeWidth": {"value": 1.5}, "opacity": {"value": 1}}}}}
}
}
},
{
"data": {"name": "taxa"},
"mark": {"type": "point", "filled": true, "size": 26, "opacity": 1},
"encoding": {
"x": {"field": "age", "type": "quantitative", "axis": null},
"y": {"field": "lat", "type": "quantitative", "axis": null},
"color": {"field": "taxa", "type": "nominal", "legend": null}
}
}
]
}
